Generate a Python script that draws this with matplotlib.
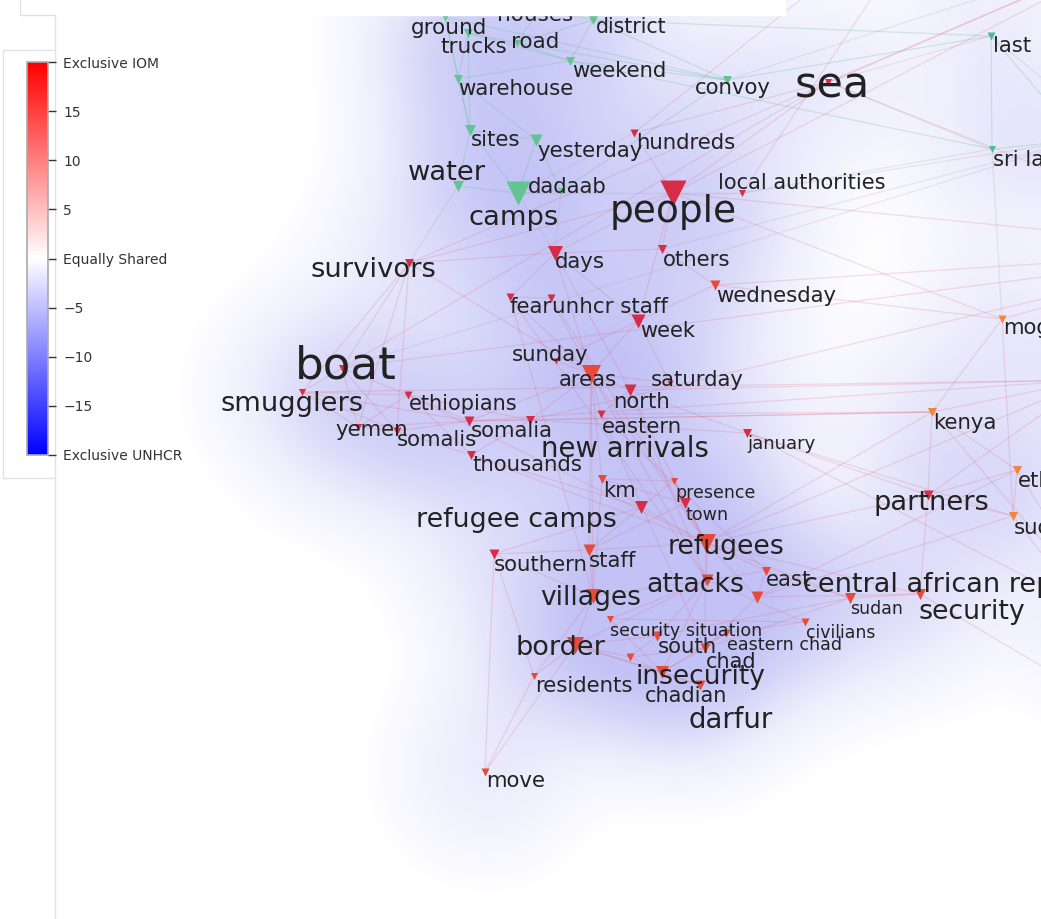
import numpy as np
import matplotlib
matplotlib.use("Agg")
import matplotlib.pyplot as plt
from matplotlib.collections import LineCollection
from matplotlib.colors import LinearSegmentedColormap, Normalize, PowerNorm
from matplotlib.colorbar import ColorbarBase

# words of the map: node position, node size, colour group, label anchor, font size
words = ["ground", "houses", "trucks", "road", "district", "weekend", "warehouse", "convoy",
         "sites", "yesterday", "water", "camps", "dadaab", "last", "sri lanka",
         "hundreds", "sea", "people", "local authorities", "days", "others", "survivors",
         "wednesday", "fear", "unhcr staff", "week", "boat", "sunday", "areas", "saturday",
         "north", "smugglers", "ethiopians", "eastern", "yemen", "somalis", "somalia",
         "new arrivals", "january", "thousands", "km", "presence", "refugee camps", "town",
         "refugees", "southern", "staff", "east", "attacks", "central african republic",
         "villages", "sudan", "security", "civilians", "security situation", "south",
         "eastern chad", "border", "chad", "insecurity", "residents", "chadian", "darfur",
         "move", "partners", "kenya", "mogadishu", "ethiopia", "sudanese",
         "italy", "libya", "mediterranean", "tanzania", "drc", "djibouti", "puntland"]
node_x = [445, 540, 468, 517, 593, 570, 458, 727,
          470, 536, 458, 518, 561, 991, 992,
          634, 828, 673, 742, 555, 662, 409,
          715, 510, 551, 638, 342, 556, 591, 670,
          630, 302, 408, 601, 358, 397, 469,
          530, 747, 471, 602, 674, 641, 685,
          706, 494, 589, 766, 707, 757,
          593, 850, 920, 805, 610, 657,
          726, 575, 705, 662, 534, 700, 630,
          485, 928, 932, 1002, 1017, 1013,
          950, 1160, 1250, 1110, 1200, 1090, 1080]
node_y = [17, 8, 33, 43, 20, 61, 79, 80,
          130, 140, 186, 193, 191, 36, 149,
          133, 82, 193, 193, 253, 249, 263,
          285, 297, 298, 321, 368, 361, 374, 383,
          390, 392, 395, 414, 427, 431, 421,
          420, 433, 455, 479, 481, 507, 503,
          543, 554, 550, 571, 580, 597,
          596, 598, 594, 622, 619, 636,
          633, 645, 648, 672, 676, 685, 657,
          772, 495, 412, 319, 470, 516,
          -120, -60, 250, 620, 760, 380, 140]
node_size = [8, 8, 9, 7, 9, 9, 9, 9,
             11, 12, 11, 24, 7, 8, 7,
             8, 7, 26, 7, 15, 9, 9,
             10, 8, 8, 14, 7, 6, 19, 6,
             12, 7, 8, 8, 7, 8, 10,
             9, 9, 9, 9, 7, 13, 11,
             19, 10, 12, 9, 12, 12,
             15, 11, 11, 8, 7, 10,
             8, 17, 10, 13, 7, 10, 8,
             8, 10, 9, 8, 9, 9,
             10, 10, 12, 10, 10, 10, 10]
group = ["g"] * 13 + ["t"] * 2 + \
        ["r", "r", "r", "r", "r", "r", "r",
         "o", "r", "r", "r", "r", "r", "o", "r",
         "r", "r", "r", "r", "r", "r", "r",
         "r", "r", "r", "o", "o", "r", "r",
         "o", "r", "o", "o", "o", "o",
         "o", "o", "o", "o", "o", "o",
         "o", "o", "o", "o", "o", "o", "o",
         "o", "r", "y", "y", "y", "y",
         "r", "r", "r", "y", "o", "y", "t"]
label_x = [411, 497, 440, 511, 596, 572, 458, 695,
           471, 537, 408, 468, 528, 993, 993,
           636, 795, 610, 718, 555, 663, 310,
           716, 510, 552, 640, 295, 512, 559, 651,
           613, 220, 409, 602, 335, 397, 471,
           541, 747, 472, 603, 675, 416, 686,
           668, 494, 589, 766, 646, 803,
           540, 850, 918, 806, 610, 658,
           727, 516, 706, 635, 535, 645, 688,
           486, 873, 933, 1003, 1018, 1014,
           960, 1170, 1260, 1120, 1210, 1100, 1090]
label_y = [28, 15, 47, 42, 27, 71, 89, 88,
           140, 151, 173, 218, 187, 46, 160,
           143, 86, 212, 183, 262, 260, 270,
           296, 307, 307, 331, 366, 355, 380, 380,
           402, 404, 404, 427, 430, 440, 431,
           449, 444, 465, 491, 493, 520, 515,
           547, 565, 561, 580, 585, 585,
           598, 609, 612, 633, 631, 647,
           645, 648, 662, 677, 686, 696, 720,
           781, 503, 423, 328, 481, 528,
           -110, -50, 260, 630, 770, 390, 150]
font_size = [15.5, 15.5, 15.5, 15.5, 14.8, 15.2, 15.3, 15.3,
             15.3, 15.3, 19.7, 19.7, 15.3, 15.2, 15.2,
             15.3, 31, 27, 15, 15.3, 15.3, 19.7,
             15.3, 15.3, 15.4, 15, 32.5, 15.3, 15.3, 15.3,
             15.3, 19.6, 15, 15.3, 15.3, 15.3, 15.3,
             19.8, 13.1, 15.3, 15.3, 12.5, 19.4, 12.6,
             19.3, 15.3, 15.3, 15.3, 19.3, 19.5,
             19.1, 12.5, 19.3, 12.4, 12.6, 15.3,
             12.6, 19.5, 15, 19.1, 15.3, 15, 19.8,
             15.3, 19.6, 15.3, 15.3, 15.3, 15.3,
             15, 15, 15, 15, 15, 15, 15]

edges = [
    # unhcr side
    ("ground", "trucks"), ("ground", "warehouse"), ("ground", "sites"), ("trucks", "road"),
    ("trucks", "warehouse"), ("trucks", "sites"), ("road", "district"), ("road", "weekend"),
    ("road", "convoy"), ("houses", "district"), ("houses", "road"), ("district", "weekend"),
    ("district", "convoy"), ("weekend", "convoy"), ("weekend", "warehouse"),
    ("warehouse", "sites"), ("warehouse", "yesterday"), ("sites", "camps"), ("sites", "water"),
    ("sites", "yesterday"), ("yesterday", "camps"), ("yesterday", "dadaab"), ("water", "camps"),
    ("camps", "dadaab"), ("dadaab", "convoy"), ("district", "last"), ("convoy", "last"),
    ("weekend", "sri lanka"), ("last", "sri lanka"), ("ground", "convoy"), ("trucks", "weekend"),
    ("last", "puntland"), ("sri lanka", "puntland"),
    # iom side
    ("survivors", "boat"), ("survivors", "smugglers"), ("survivors", "yemen"),
    ("survivors", "somalis"), ("survivors", "days"), ("boat", "smugglers"), ("boat", "yemen"),
    ("boat", "somalis"), ("boat", "ethiopians"), ("boat", "sea"), ("smugglers", "yemen"),
    ("smugglers", "somalis"), ("smugglers", "ethiopians"), ("smugglers", "somalia"),
    ("yemen", "somalis"), ("yemen", "ethiopians"), ("yemen", "somalia"), ("somalis", "somalia"),
    ("somalis", "thousands"), ("ethiopians", "somalia"), ("ethiopians", "new arrivals"),
    ("ethiopians", "thousands"), ("somalia", "new arrivals"), ("somalia", "areas"),
    ("somalia", "kenya"), ("thousands", "new arrivals"), ("new arrivals", "areas"),
    ("areas", "north"), ("areas", "eastern"), ("areas", "sunday"), ("areas", "saturday"),
    ("areas", "week"), ("areas", "days"), ("areas", "fear"), ("areas", "unhcr staff"),
    ("areas", "refugees"), ("areas", "attacks"), ("areas", "villages"), ("areas", "km"),
    ("areas", "staff"), ("days", "week"), ("days", "others"), ("days", "people"),
    ("days", "fear"), ("people", "hundreds"), ("people", "others"), ("people", "week"),
    ("people", "sea"), ("people", "local authorities"), ("week", "wednesday"),
    ("week", "saturday"), ("week", "sunday"), ("others", "wednesday"), ("fear", "unhcr staff"),
    ("fear", "attacks"), ("unhcr staff", "refugees"), ("north", "eastern"), ("north", "refugees"),
    ("north", "attacks"), ("north", "january"), ("eastern", "chad"), ("eastern", "east"),
    ("refugees", "attacks"), ("refugees", "town"), ("refugees", "presence"), ("refugees", "staff"),
    ("refugees", "chad"), ("refugees", "east"), ("refugees", "central african republic"),
    ("refugees", "sudan"), ("refugees", "security"), ("refugees", "partners"),
    ("refugees", "kenya"), ("attacks", "villages"), ("attacks", "insecurity"),
    ("attacks", "border"), ("attacks", "south"), ("attacks", "east"), ("attacks", "civilians"),
    ("attacks", "security situation"), ("villages", "border"), ("villages", "residents"),
    ("villages", "southern"), ("villages", "staff"), ("villages", "km"), ("border", "residents"),
    ("border", "insecurity"), ("border", "south"), ("border", "chadian"), ("border", "move"),
    ("border", "darfur"), ("insecurity", "chadian"), ("insecurity", "chad"),
    ("insecurity", "darfur"), ("insecurity", "security situation"), ("insecurity", "eastern chad"),
    ("chad", "sudan"), ("chad", "eastern chad"), ("chad", "darfur"),
    ("chad", "central african republic"), ("south", "sudan"), ("south", "darfur"),
    ("east", "central african republic"), ("east", "sudan"), ("sudan", "security"),
    ("security", "partners"), ("security", "central african republic"), ("partners", "kenya"),
    ("partners", "ethiopia"), ("partners", "sudanese"), ("kenya", "mogadishu"),
    ("kenya", "ethiopia"), ("kenya", "new arrivals"), ("january", "partners"),
    ("refugee camps", "southern"), ("refugee camps", "km"), ("refugee camps", "thousands"),
    ("refugee camps", "staff"), ("refugee camps", "refugees"), ("refugee camps", "presence"),
    ("southern", "staff"), ("southern", "residents"), ("southern", "move"), ("staff", "town"),
    ("km", "presence"), ("km", "town"), ("presence", "town"), ("residents", "move"),
    ("civilians", "security situation"), ("civilians", "eastern chad"),
    ("central african republic", "sudanese"), ("central african republic", "ethiopia"),
    ("ethiopia", "sudanese"), ("mogadishu", "sudanese"), ("wednesday", "mogadishu"),
    ("people", "mogadishu"), ("january", "sudanese"), ("eastern", "kenya"),
    ("new arrivals", "january"), ("thousands", "refugees"), ("days", "north"),
    ("survivors", "areas"), ("ethiopians", "refugees"), ("fear", "villages"),
    ("smugglers", "djibouti"), ("somalia", "djibouti"), ("kenya", "djibouti"),
    ("north", "djibouti"), ("refugees", "djibouti"), ("partners", "djibouti"),
    # links between both sides and out of view
    ("hundreds", "camps"), ("hundreds", "sea"), ("sea", "last"), ("sea", "sri lanka"),
    ("people", "camps"), ("sea", "mediterranean"), ("sea", "libya"), ("people", "libya"),
    ("boat", "mediterranean"), ("sri lanka", "mogadishu"), ("local authorities", "sri lanka"),
    ("local authorities", "italy"), ("hundreds", "italy"), ("survivors", "people"),
    ("camps", "days"), ("water", "survivors"), ("days", "dadaab"), ("kenya", "tanzania"),
    ("security", "drc"), ("sudanese", "drc"), ("ethiopia", "tanzania"),
    ("mogadishu", "mediterranean"), ("people", "mediterranean"),
    ("new arrivals", "mediterranean"), ("january", "tanzania"), ("convoy", "libya"),
    ("last", "mediterranean"), ("wednesday", "mediterranean"), ("others", "puntland"),
    ("local authorities", "puntland"), ("boat", "puntland"), ("survivors", "libya"),
]

# colorbar ticks
cbar_ticks = [-20, -15, -10, -5, 0, 5, 10, 15, 20]
cbar_labels = ["Exclusive UNHCR", "\u221215", "\u221210", "\u22125", "Equally Shared",
               "5", "10", "15", "Exclusive IOM"]

group_colors = {"g": "#62c491", "t": "#4fb89c", "r": "#d52c47", "o": "#e64a3a", "y": "#f3843a"}

W, H = 1041, 919
fig = plt.figure(figsize=(W / 100, H / 100), dpi=100)
ax = fig.add_axes([0, 0, 1, 1])
ax.set_xlim(0, W)
ax.set_ylim(H, 0)
ax.axis("off")

nx = np.array(node_x, float)
ny = np.array(node_y, float)
ns = np.array(node_size, float)

# density of the words behind the network
gx, gy = np.meshgrid(np.arange(0, W, 3), np.arange(0, H, 3))
dens = np.zeros_like(gx, dtype=float)
for x0, y0, s0 in zip(nx, ny, ns):
    dens += (1 + s0 / 12) * np.exp(-((gx - x0) ** 2 + (gy - y0) ** 2) / (2 * 55 ** 2))
bg = LinearSegmentedColormap.from_list("bg", ["#ffffff", "#eeeefd", "#d6d6f9", "#c2c2f6"])
ax.imshow(dens, cmap=bg, norm=PowerNorm(0.6, vmin=0.15, vmax=dens.max() * 0.75),
          extent=(0, W, H, 0), interpolation="bilinear", zorder=0, aspect="auto")

# edges
idx = {w: i for i, w in enumerate(words)}
segs, cols = [], []
for a, b in edges:
    i, j = idx[a], idx[b]
    segs.append([(nx[i], ny[i]), (nx[j], ny[j])])
    ga, gb = group[i], group[j]
    if ga in "gt" and gb in "gt":
        cols.append((0.35, 0.75, 0.55, 0.25))
    elif ga in "gt" or gb in "gt":
        cols.append((0.7, 0.6, 0.6, 0.2))
    else:
        cols.append((0.87, 0.38, 0.45, 0.2))
ax.add_collection(LineCollection(segs, colors=cols, linewidths=0.9, zorder=1))

# nodes and labels
for i, w in enumerate(words):
    ax.scatter(nx[i], ny[i], marker="v", s=(ns[i] * 0.72) ** 2,
               color=group_colors[group[i]], linewidths=0, zorder=2)
    ax.text(label_x[i], label_y[i], w, fontsize=font_size[i], color="#222222",
            ha="left", va="center", zorder=3, family="DejaVu Sans")

# left panel and top strip
ax.fill_between([0, 55], 0, H, color="white", zorder=4)
ax.fill_between([55, 785], 0, 15, color="white", zorder=4)
line_kw = dict(color="#e2e2e2", lw=1, zorder=5)
ax.plot([20, 20, 55, 55], [0, 15, 15, H], **line_kw)
ax.plot([55, 3, 3, 55], [50, 50, 478, 478], **line_kw)

# colorbar
cax = fig.add_axes([27 / W, 1 - 455 / H, 21 / W, (455 - 62) / H])
cb = ColorbarBase(cax, cmap=plt.get_cmap("bwr"), norm=Normalize(-20, 20),
                  ticks=cbar_ticks, orientation="vertical")
cb.ax.set_yticklabels(cbar_labels)
cb.ax.tick_params(length=6, width=1, color="#333333", labelsize=10, labelcolor="#333333", pad=5)
cb.outline.set_edgecolor("#aaaaaa")
cb.outline.set_linewidth(1.2)

fig.savefig("out.png", dpi=100)
